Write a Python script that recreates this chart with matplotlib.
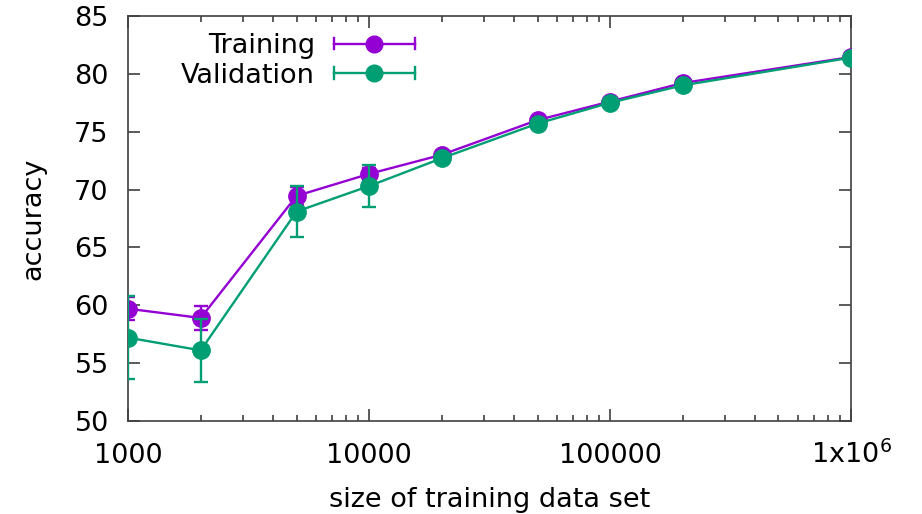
import numpy as np
import matplotlib.pyplot as plt
from matplotlib.legend_handler import HandlerBase
from matplotlib.lines import Line2D
from matplotlib.ticker import FixedLocator, LogLocator, NullFormatter

sizes = [1000, 2000, 5000, 10000, 20000, 50000, 100000, 200000, 1000000]
train_acc = [59.7, 58.9, 69.45, 71.35, 73.0, 76.0, 77.6, 79.2, 81.45]
train_err = [1.0, 1.0, 0.8, 0.5, 0.3, 0.3, 0.2, 0.2, 0.2]
val_acc = [57.2, 56.1, 68.1, 70.3, 72.7, 75.7, 77.5, 79.0, 81.4]
val_err = [3.6, 2.75, 2.2, 1.8, 0.3, 0.3, 0.2, 0.2, 0.2]

xtick_vals = [1000, 10000, 100000, 1000000]
xtick_labels = ["1000", "10000", "100000", r"1x10$^6$"]

purple = "#9400D3"
green = "#009E73"
axcol = "#404040"
fs = 19.5


class HandlerErrLine(HandlerBase):
    # gnuplot-like key sample: horizontal line with end caps and a marker
    def create_artists(self, legend, orig_handle, xdescent, ydescent,
                       width, height, fontsize, trans):
        c = orig_handle.get_color()
        y = height / 2 - ydescent
        x0, x1 = -xdescent, width - xdescent
        line = Line2D([x0, x1], [y, y], color=c, lw=1.7)
        cap_l = Line2D([x0, x0], [y - 4, y + 4], color=c, lw=1.7)
        cap_r = Line2D([x1, x1], [y - 4, y + 4], color=c, lw=1.7)
        mk = Line2D([(x0 + x1) / 2], [y], color=c, marker="o",
                    markersize=12, linestyle="none")
        arts = [line, cap_l, cap_r, mk]
        for a in arts:
            a.set_transform(trans)
        return arts


fig = plt.figure(figsize=(9.22, 5.14), dpi=100)
ax = fig.add_axes([0.139, 0.181, 0.784, 0.788])

ax.errorbar(sizes, train_acc, yerr=train_err, color=purple, lw=1.7,
            marker="o", markersize=12.5, capsize=4.7, capthick=1.7,
            elinewidth=1.7, zorder=3)
ax.errorbar(sizes, val_acc, yerr=val_err, color=green, lw=1.7,
            marker="o", markersize=12.5, capsize=4.7, capthick=1.7,
            elinewidth=1.7, zorder=4)

ax.set_xscale("log")
ax.set_xlim(1000, 1000000)
ax.set_ylim(50, 85)
ax.xaxis.set_major_locator(FixedLocator(xtick_vals))
ax.set_xticklabels(xtick_labels)
ax.xaxis.set_minor_locator(LogLocator(base=10, subs=np.arange(2, 10)))
ax.xaxis.set_minor_formatter(NullFormatter())
ax.set_yticks(np.arange(50, 86, 5))

ax.tick_params(which="both", direction="in", top=True, right=True,
               labelsize=fs, width=1.2, color=axcol, labelcolor="black")
ax.tick_params(which="major", length=8.5)
ax.tick_params(which="minor", length=4.3)
ax.tick_params(axis="y", pad=14)
ax.tick_params(axis="x", pad=30)
for lbl in ax.get_xticklabels():
    lbl.set_verticalalignment("baseline")
for s in ax.spines.values():
    s.set_linewidth(1.2)
    s.set_color(axcol)

ax.set_xlabel("size of training data set", fontsize=fs, labelpad=13)
ax.set_ylabel("accuracy", fontsize=fs, labelpad=20)

h1 = Line2D([], [], color=purple)
h2 = Line2D([], [], color=green)
ax.legend([h1, h2], ["Training", "Validation"],
          handler_map={Line2D: HandlerErrLine()},
          loc="center", bbox_to_anchor=(0.235, 0.889), frameon=False,
          markerfirst=False, fontsize=fs, handlelength=3.0,
          labelspacing=0.12, handletextpad=0.7, borderpad=0,
          borderaxespad=0)

fig.savefig("out.png", dpi=100)
